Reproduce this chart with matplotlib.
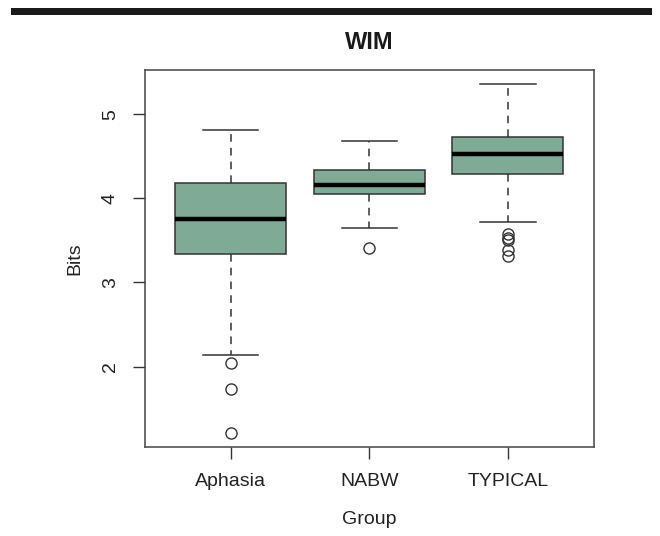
import matplotlib
matplotlib.use('Agg')
import matplotlib.pyplot as plt
from matplotlib.patches import Rectangle

plt.rcParams['font.family'] = ['Liberation Sans', 'DejaVu Sans']

# box statistics
groups = ['Aphasia', 'NABW', 'TYPICAL']
whis_lo = [2.14, 3.65, 3.72]
q1 = [3.34, 4.05, 4.29]
median = [3.76, 4.16, 4.53]
q3 = [4.18, 4.34, 4.73]
whis_hi = [4.81, 4.68, 5.36]
outliers = [
    [2.04, 1.73, 1.21],
    [3.41],
    [3.58, 3.53, 3.50, 3.39, 3.31],
]

box_fill = '#7faa96'
edge = '#333333'

stats = []
for i, g in enumerate(groups):
    stats.append({'label': g, 'whislo': whis_lo[i], 'q1': q1[i], 'med': median[i],
                  'q3': q3[i], 'whishi': whis_hi[i], 'fliers': outliers[i]})

fig = plt.figure(figsize=(6.6, 5.36), dpi=100)
ax = fig.add_axes([144.5 / 660, 1 - 447 / 536, (594 - 144.5) / 660, (447 - 70) / 536])

ax.bxp(stats, positions=[1, 2, 3], widths=0.8, patch_artist=True,
       boxprops=dict(facecolor=box_fill, edgecolor=edge, linewidth=1.1),
       medianprops=dict(color='black', linewidth=3.2, solid_capstyle='butt'),
       whiskerprops=dict(color=edge, linewidth=1.1, linestyle=(0, (5, 4))),
       capprops=dict(color=edge, linewidth=1.1),
       flierprops=dict(marker='o', markersize=8, markerfacecolor='none',
                       markeredgecolor=edge, markeredgewidth=1.0),
       capwidths=0.4)

# R-style limits: 4% padding
all_vals = whis_lo + whis_hi + [v for o in outliers for v in o]
lo, hi = min(all_vals), max(all_vals)
pad = (hi - lo) * 0.04
ax.set_ylim(lo - pad, hi + pad)
ax.set_xlim(0.38, 3.62)

ax.set_yticks([2, 3, 4, 5])
ax.set_yticklabels(['2', '3', '4', '5'], rotation=90, va='center')
ax.set_xticks([1, 2, 3])
ax.set_xticklabels(groups)
ax.tick_params(axis='both', length=8.5, width=1, color=edge, labelsize=14,
               labelcolor='#222222')
ax.tick_params(axis='x', pad=10)
ax.tick_params(axis='y', pad=10)

for s in ax.spines.values():
    s.set_color('#444444')
    s.set_linewidth(1.1)

ax.set_xlabel('Group', fontsize=14, color='#222222', labelpad=15)
ax.set_ylabel('Bits', fontsize=14, color='#222222', labelpad=13)
ax.set_title('WIM', fontsize=17, fontweight='bold', color='#1a1a1a', pad=15)

# black rule across the top of the page
fig.patches.append(Rectangle((11 / 660, 1 - 15 / 536), 641 / 660, 7 / 536,
                             transform=fig.transFigure, facecolor='#1a1a1a',
                             edgecolor='none'))

fig.savefig('out.png', dpi=100)
